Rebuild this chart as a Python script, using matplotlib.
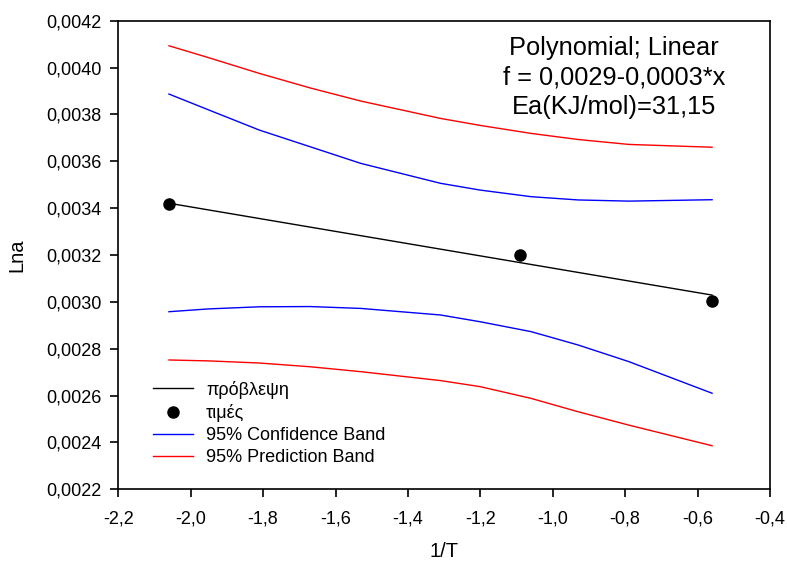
import matplotlib
matplotlib.use('Agg')
import matplotlib.pyplot as plt
from matplotlib.ticker import FuncFormatter, MultipleLocator

plt.rcParams['font.family'] = ['Liberation Sans', 'DejaVu Sans']

# measured points (1/T, Lna)
x_pts = [-2.06, -1.09, -0.56]
y_pts = [0.003417, 0.003200, 0.003005]

# fitted line end points
x_fit = [-2.06, -0.56]
y_fit = [0.003421, 0.003029]

# band curves
x_band = [-2.06, -1.95, -1.81, -1.67, -1.53, -1.31, -1.20, -1.06, -0.93, -0.79, -0.56]
conf_up = [0.003887, 0.003819, 0.003733, 0.003662, 0.003591, 0.003506,
           0.003477, 0.003449, 0.003435, 0.003430, 0.003436]
conf_lo = [0.002958, 0.002970, 0.002979, 0.002980, 0.002972, 0.002944,
           0.002915, 0.002873, 0.002816, 0.002745, 0.002610]
pred_up = [0.004093, 0.004042, 0.003975, 0.003913, 0.003857, 0.003783,
           0.003753, 0.003719, 0.003693, 0.003672, 0.003660]
pred_lo = [0.002752, 0.002748, 0.002739, 0.002723, 0.002702, 0.002664,
           0.002638, 0.002588, 0.002531, 0.002474, 0.002386]

fig = plt.figure(figsize=(7.87, 5.63), dpi=100)
ax = fig.add_axes([0.1503, 0.1309, 0.8281, 0.8323])

ax.plot(x_fit, y_fit, color='black', lw=1, label='πρόβλεψη')
ax.plot(x_pts, y_pts, 'o', color='black', ms=8, label='τιμές')
ax.plot(x_band, conf_up, color='blue', lw=1, label='95% Confidence Band')
ax.plot(x_band, conf_lo, color='blue', lw=1)
ax.plot(x_band, pred_up, color='red', lw=1, label='95% Prediction Band')
ax.plot(x_band, pred_lo, color='red', lw=1)

ax.set_xlim(-2.2, -0.4)
ax.set_ylim(0.0022, 0.0042)
ax.xaxis.set_major_locator(MultipleLocator(0.2))
ax.yaxis.set_major_locator(MultipleLocator(0.0002))
ax.xaxis.set_major_formatter(FuncFormatter(lambda v, p: ('%.1f' % v).replace('.', ',')))
ax.yaxis.set_major_formatter(FuncFormatter(lambda v, p: ('%.4f' % v).replace('.', ',')))
ax.tick_params(axis='both', direction='out', length=6, width=1.2, labelsize=13)
ax.tick_params(axis='x', pad=9)
ax.tick_params(axis='y', pad=6)
for s in ax.spines.values():
    s.set_linewidth(1.2)

ax.set_xlabel('1/T', fontsize=14.5, labelpad=11)
ax.set_ylabel('Lna', fontsize=14.5, labelpad=14)

ax.text(-0.83, 0.003957, 'Polynomial; Linear\nf = 0,0029-0,0003*x\nEa(KJ/mol)=31,15',
        ha='center', va='center', fontsize=18.3, linespacing=1.3)

ax.legend(loc='upper left', bbox_to_anchor=(0.053, 0.232), frameon=False,
          fontsize=13, handlelength=2.2, handletextpad=0.75, labelspacing=0.29,
          borderpad=0, borderaxespad=0)

fig.savefig('out.png', dpi=100)
